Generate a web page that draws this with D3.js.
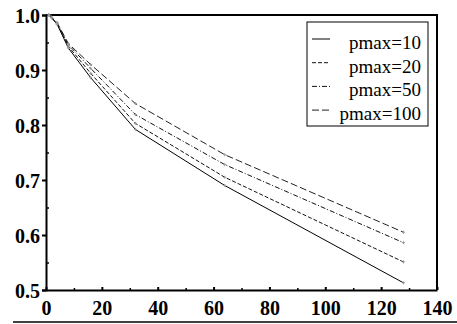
<!DOCTYPE html>
<meta charset="utf-8">
<style>
body { margin: 0; background: #fff; }
</style>
<body>
<script src="https://cdn.jsdelivr.net/npm/d3@7"></script>
<script>

var width = 457, height = 324;
var serif = "'Liberation Serif', 'DejaVu Serif', serif";

// data
var xs = [1, 2, 4, 8, 16, 32, 64, 128];
var pmax10  = [1.0, 0.995, 0.983, 0.940, 0.886, 0.792, 0.690, 0.513];
var pmax20  = [1.0, 0.995, 0.984, 0.943, 0.894, 0.803, 0.705, 0.551];
var pmax50  = [1.0, 0.996, 0.985, 0.946, 0.903, 0.819, 0.728, 0.586];
var pmax100 = [1.0, 0.996, 0.986, 0.948, 0.910, 0.839, 0.746, 0.605];
var seriesNames = ["pmax=10", "pmax=20", "pmax=50", "pmax=100"];
var xTicks = [0, 20, 40, 60, 80, 100, 120, 140];
var xMinor = [10, 30, 50, 70, 90, 110, 130];
var yTicks = [0.5, 0.6, 0.7, 0.8, 0.9, 1.0];
var yMinor = [0.55, 0.65, 0.75, 0.85, 0.95];

var series = [pmax10, pmax20, pmax50, pmax100];
var dashes = [null, "4,2", "5,2,1,2", "7,3"];
var strokes = ["#000", "#111", "#111", "#222"];

var x = d3.scaleLinear().domain([0, 140]).range([46, 437]);
var y = d3.scaleLinear().domain([0.5, 1.0]).range([290, 15]);

var svg = d3.select("body").append("svg")
    .attr("width", width)
    .attr("height", height);

// frame (top + right)
svg.append("path")
    .attr("d", "M" + x(0) + "," + y(1) + "H" + x(140) + "V" + y(0.5))
    .attr("fill", "none")
    .attr("stroke", "#000")
    .attr("stroke-width", 2);

var line = d3.line()
    .x(function(d, i) { return x(xs[i]); })
    .y(function(d) { return y(d); });

svg.append("g").selectAll("path")
    .data(series)
  .enter().append("path")
    .attr("d", line)
    .attr("fill", "none")
    .attr("stroke", function(d, i) { return strokes[i]; })
    .attr("stroke-width", 1)
    .attr("stroke-dasharray", function(d, i) { return dashes[i]; });

// little grey point markers
series.forEach(function(s) {
  svg.append("g").selectAll("path")
      .data(s)
    .enter().append("path")
      .attr("d", function(d, i) {
        var cx = x(xs[i]), cy = y(d);
        return "M" + (cx - 1.5) + "," + cy + "h3M" + cx + "," + (cy - 1.5) + "v3";
      })
      .attr("stroke", "#999")
      .attr("stroke-width", 1);
});

function styleLabels(sel) {
  sel.style("font-family", serif)
     .style("font-weight", "bold")
     .style("font-size", "20px")
     .attr("fill", "#000");
}

// y axis
var yAxis = svg.append("g")
    .attr("transform", "translate(" + x(0) + ",0)")
    .call(d3.axisLeft(y).tickValues(yTicks).tickFormat(d3.format(".1f")).tickSize(4).tickPadding(2));
yAxis.select(".domain").attr("stroke-width", 2);
yAxis.selectAll(".tick line").attr("stroke-width", 2);
yAxis.selectAll("text").attr("dy", "0.36em").call(styleLabels);

svg.append("g")
    .attr("transform", "translate(" + x(0) + ",0)")
    .call(d3.axisRight(y).tickValues(yMinor).tickFormat("").tickSize(3))
    .call(function(g) { g.select(".domain").remove(); })
    .selectAll("line").attr("stroke-width", 1.5);

// x axis
var xAxis = svg.append("g")
    .attr("transform", "translate(0," + y(0.5) + ")")
    .call(d3.axisBottom(x).tickValues(xTicks).tickSizeInner(-3).tickSizeOuter(0));
xAxis.select(".domain").attr("stroke-width", 2);
xAxis.selectAll(".tick line").attr("stroke-width", 2);
xAxis.selectAll("text").attr("y", 25).attr("dy", 0).call(styleLabels);

svg.append("g")
    .attr("transform", "translate(0," + y(0.5) + ")")
    .call(d3.axisBottom(x).tickValues(xMinor).tickFormat("").tickSizeInner(-2).tickSizeOuter(0))
    .call(function(g) { g.select(".domain").remove(); })
    .selectAll("line").attr("stroke-width", 1.5);

// rule under the x labels
svg.append("line")
    .attr("x1", 13).attr("x2", 457)
    .attr("y1", 322).attr("y2", 322)
    .attr("stroke", "#000")
    .attr("stroke-width", 1.5);

// legend
var legend = svg.append("g");
legend.append("rect")
    .attr("x", 307).attr("y", 22)
    .attr("width", 121).attr("height", 104)
    .attr("fill", "#fff")
    .attr("stroke", "#000")
    .attr("stroke-width", 1);

var rows = legend.selectAll("g.row")
    .data(seriesNames)
  .enter().append("g")
    .attr("class", "row")
    .attr("transform", function(d, i) { return "translate(0," + (49 + i * 23.7) + ")"; });

rows.append("line")
    .attr("x1", 312).attr("x2", 330)
    .attr("y1", -10).attr("y2", -10)
    .attr("stroke", function(d, i) { return strokes[i]; })
    .attr("stroke-width", 1)
    .attr("stroke-dasharray", function(d, i) { return dashes[i]; });

rows.append("text")
    .attr("x", 421)
    .attr("text-anchor", "end")
    .style("font-family", serif)
    .style("font-size", "19px")
    .attr("fill", "#000")
    .text(function(d) { return d; });

</script>
